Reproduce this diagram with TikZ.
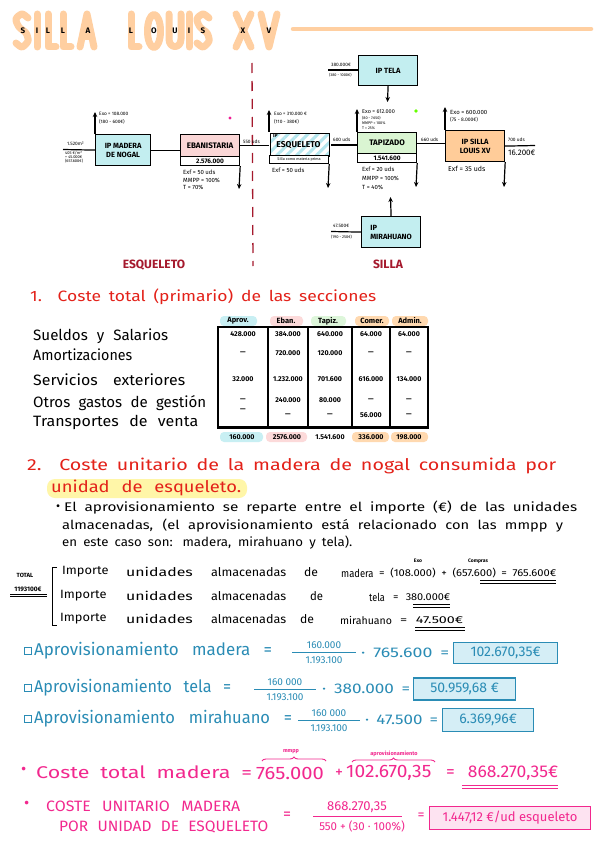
\documentclass[tikz,border=0pt]{standalone}
\usepackage{fontspec}
\usepackage{graphicx}
\setmainfont{Fira Sans}
\usetikzlibrary{arrows.meta,patterns.meta,decorations.pathreplacing}
\definecolor{peach}{HTML}{FFCFA1}
\definecolor{cyanf}{HTML}{C3EEF0}
\definecolor{pinkf}{HTML}{FAD6D6}
\definecolor{greenf}{HTML}{DAF5D2}
\definecolor{orangef}{HTML}{FFCC99}
\definecolor{hatchc}{HTML}{B5E6EE}
\definecolor{dred}{HTML}{A5192D}
\definecolor{redt}{HTML}{E32119}
\definecolor{tealt}{HTML}{2A8CB5}
\definecolor{tealf}{HTML}{D5EEF6}
\definecolor{pinkt}{HTML}{F2288E}
\definecolor{pinkbox}{HTML}{FDE3F1}
\definecolor{hly}{HTML}{FFF6A8}
\definecolor{hlc}{HTML}{C8EFF3}
\definecolor{hlp}{HTML}{FCDADA}
\definecolor{hlg}{HTML}{DDF6DA}
\definecolor{hlo}{HTML}{FFD9B0}
\newcommand{\fitw}[2]{\resizebox{#1}{\height}{\makebox[1.08\width][s]{#2}}}
\begin{document}
\begin{tikzpicture}[x=1pt,y=-1pt,
 fs/.style={font=\fontsize{#1}{#1}\selectfont},
 fsb/.style={font=\fontsize{#1}{#1}\selectfont\bfseries},
 box/.style={draw,line width=1.2pt,inner sep=0pt,anchor=north west,align=center,font=\fontsize{7.5}{9}\selectfont\bfseries},
 conn/.style={line width=1.2pt},
 arr/.style={line width=1.2pt,-{Stealth[length=5pt,width=4.5pt]}},
 lab/.style={inner sep=0pt,anchor=west,font=\fontsize{4.8}{5.5}\selectfont},
 labm/.style={inner sep=0pt,anchor=west,font=\fontsize{6}{7}\selectfont},
 tx/.style={inner sep=0pt,anchor=west},
 num/.style={inner sep=0pt,font=\fontsize{7}{8}\selectfont\bfseries},
 hl/.style={rounded corners=4pt},
 ttl/.style={peach,line width=7pt,line cap=round,line join=round},
 uline/.style={line width=0.9pt},
 resbox/.style={line width=1.2pt,minimum height=22pt,anchor=west,inner sep=0pt},
]
\useasboundingbox (0,0) rectangle (600,848);
\fill[white] (0,0) rectangle (600,848);

% ---------- title ----------
\draw[ttl] plot[smooth] coordinates {(28,18) (22,14) (16,19) (19,27) (26,33) (28,41) (22,47) (16,43)};
\draw[ttl] (37,14) -- (37,47);
\draw[ttl] (48,14) -- (48,47) -- (56,47);
\draw[ttl] (63,14) -- (63,47) -- (71,47);
\draw[ttl] (80,47) -- (87,14) -- (94,47);
\draw[ttl] (82.5,37) -- (91.5,37);
\draw[ttl] (131,14) -- (131,47) -- (139,47);
\draw[ttl] (154,31) ellipse [x radius=6.5pt, y radius=16.5pt];
\draw[ttl] (169,14) -- (169,39) .. controls (169,49) and (181,49) .. (181,39) -- (181,14);
\draw[ttl] (189,14) -- (189,47);
\draw[ttl] plot[smooth] coordinates {(209,18) (203,14) (197,19) (200,27) (207,33) (209,41) (203,47) (197,43)};
\draw[ttl] (236,14) -- (251,47);
\draw[ttl] (251,14) -- (236,47);
\draw[ttl] (261,14) -- (269,47) -- (277,14);
\foreach \x/\c in {23/S,37/I,48/L,63/L,88/A,131/L,154/O,175/U,189/I,203/S,243/X,269/V}
  \node[fsb=8,inner sep=0pt] (t\x) at (\x,31) {\c};
\draw[peach,line width=4.5pt,line cap=round] (293,29) -- (591,29);

% ---------- dashed divider ----------
\draw[dred,line width=1.3pt,dash pattern=on 10pt off 8pt] (252,63) -- (253,266);

% ---------- boxes ----------
\node[box,fill=cyanf,minimum width=55pt,minimum height=31pt] (mad) at (95,134) {IP MADERA\\DE NOGAL};
\node[box,fill=pinkf,minimum width=59pt,minimum height=22pt,fsb=8] (eban) at (180,134) {EBANISTARIA};
\node[box,fill=white,minimum width=59pt,minimum height=9pt,fsb=6.5] (ebanv) at (180,156) {2.576.000};
\node[box,pattern={Lines[angle=45,distance=7pt,line width=3pt]},pattern color=hatchc,minimum width=59pt,minimum height=23pt] (esq) at (269,132) {};
\node[fsb=8.5,inner sep=0pt] (esqt) at (298.5,145) {ESQUELETO};
\node[fsb=5,inner sep=0pt,anchor=west] (esqip) at (273,136) {IP};
\node[box,fill=white,minimum width=59pt,minimum height=8pt,fs=3.8] (esqv) at (269,155) {Silla como materia prima};
\node[box,fill=cyanf,minimum width=59pt,minimum height=30pt] (tela) at (358,55) {IP TELA};
\node[box,fill=greenf,minimum width=59pt,minimum height=21pt,fsb=8] (tap) at (357,132) {TAPIZADO};
\node[box,fill=white,minimum width=59pt,minimum height=9pt,fsb=6.5] (tapv) at (357,153) {1.541.600};
\node[box,fill=orangef,minimum width=59pt,minimum height=31pt] (silla) at (445,130) {IP SILLA\\LOUIS XV};
\node[box,fill=cyanf,minimum width=59pt,minimum height=31pt,align=left] (mira) at (361,216) {IP\\MIRAHUANO};

% ---------- connectors ----------
\coordinate (madin) at (63,149.5);
\draw[conn] (madin) -- (mad.west);
\draw[conn] (mad.east) -- (mad.east -| eban.west);
\draw[conn] (eban.east) -- (eban.east -| esq.west);
\draw[conn] (esq.east) -- (esq.east -| tap.west);
\draw[conn] (tap.east) -- (tap.east -| silla.west);
\coordinate (sout) at (535,145.5);
\draw[conn] (silla.east) -- (sout);
\coordinate (telain) at (328,70);
\draw[conn] (telain) -- (telain -| tela.west);
\coordinate (mirain) at (331,231.5);
\draw[conn] (mirain) -- (mira.west);

\coordinate (madup) at (95,112);   \draw[arr] (mad.north west) -- (madup);
\coordinate (ebandn) at (239,189); \draw[arr] (ebanv.south east) -- (ebandn);
\coordinate (esqup) at (269,110);  \draw[arr] (esq.north west) -- (esqup);
\coordinate (esqdn) at (328,188);  \draw[arr] (esqv.south east) -- (esqdn);
\coordinate (telad) at (387.5,102); \draw[arr] (tela.south) -- (telad);
\coordinate (tapup) at (357,109);  \draw[arr] (tap.north west) -- (tapup);
\coordinate (tapdn) at (416,187);  \draw[arr] (tapv.south east) -- (tapdn);
\coordinate (sillaup) at (445,107); \draw[arr] (silla.north west) -- (sillaup);
\coordinate (silladn) at (504,187); \draw[arr] (silla.south east) -- (silladn);
\coordinate (miraup) at (390.5,197); \draw[arr] (mira.north) -- (miraup);

% ---------- diagram labels ----------
\node[lab] (m1) at (67,144) {1.520m²};
\node[lab,fs=4,align=left,anchor=north west] (m2) at (65,151) {405 €/m²\\+ 45.000€\\(657.600€)};
\node[lab] (m3) at (99,114) {Exo = 108.000};
\node[lab] (m4) at (99,122) {(180 - 600€)};
\node[labm] (e1) at (183,172) {Exf = 50 uds};
\node[labm] (e2) at (183,180) {MMPP = 100\%};
\node[labm] (e3) at (183,187) {T = 70\%};
\node[lab] (e4) at (243,142) {550 uds};
\node[lab] (q1) at (274,114) {Exo = 310.000 €};
\node[lab] (q2) at (274,122) {(110 - 380€)};
\node[labm] (q3) at (272,170) {Exf = 50 uds};
\node[lab] (a1) at (331,65) {380.000€};
\node[lab,fs=3.8] (a2) at (329,75) {(380 - 1000€)};
\node[lab] (a3) at (333,140) {600 uds};
\node[lab,fs=5.5] (p1) at (362,112) {Exo = 612.000};
\node[lab,fs=3.8] (p2) at (362,118) {(80 - 7.650)};
\node[lab,fs=3.8] (p3) at (362,123) {MMPP = 100\%};
\node[lab,fs=3.8] (p4) at (362,128) {T = 25\%};
\node[labm] (p5) at (362,169) {Exf = 20 uds};
\node[labm] (p6) at (362,178) {MMPP = 100\%};
\node[labm] (p7) at (362,187) {T = 40\%};
\node[lab] (p8) at (421,140) {660 uds};
\node[lab,fs=6] (s1) at (450,112) {Exo = 600.000};
\node[lab,fs=5] (s2) at (450,120) {(75 - 8.000€)};
\node[lab,fs=7] (s3) at (448,169) {Exf = 35 uds};
\node[lab] (s4) at (508,140) {700 uds};
\node[lab,fs=8] (s5) at (508,153) {16.200€};
\node[lab] (r1) at (333,226) {47.500€};
\node[lab,fs=4] (r2) at (331,237) {(190 - 250€)};
\fill[magenta!85!pink] (230,118) circle[radius=1.6pt];
\fill[green!60!yellow] (416,111) circle[radius=1.8pt];
\node[dred,fsb=12,inner sep=0pt] (lesq) at (154,265) {ESQUELETO};
\node[dred,fsb=12,inner sep=0pt] (lsil) at (388,264) {SILLA};

% ---------- section 1 ----------
\node[tx,redt,fs=15] (h1) at (30,297) {\fitw{346pt}{1. Coste total (primario) de las secciones}};
\fill[hlc,hl] (220,316) rectangle (257,326);
\fill[hlp,hl] (270,316) rectangle (303,326);
\fill[hlg,hl] (311,316) rectangle (346,326);
\fill[hlo,hl] (355,316) rectangle (389,326);
\fill[hlo,hl] (392,316) rectangle (428,326);
\node[num,fsb=7.5] (c1) at (238,321) {Aprov.};
\node[num,fsb=7.5] (c2) at (286,321) {Eban.};
\node[num,fsb=7.5] (c3) at (328,321) {Tapiz.};
\node[num,fsb=7.5] (c4) at (372,321) {Comer.};
\node[num,fsb=7.5] (c5) at (410,321) {Admin.};
\draw[line width=1.3pt] (218,327) rectangle (428,428);
\draw[line width=2pt] (218,427) -- (428,427);
\foreach \x in {268,308,352,390} \draw[line width=1.1pt] (\x,327) -- (\x,428);
\foreach \y/\a/\b/\c/\d/\e in {334/428.000/384.000/640.000/64.000/64.000,
   353/—/720.000/120.000/—/—,
   379/32.000/1.232.000/701.600/616.000/134.000,
   400/—/240.000/80.000/—/—,
   415/ /—/—/56.000/—}
 {\node[num] at (243,\y) {\a};
  \node[num] at (288,\y) {\b};
  \node[num] at (330,\y) {\c};
  \node[num] at (371,\y) {\d};
  \node[num] at (409,\y) {\e};}
\node[num] (dash5) at (243,410) {—};
\fill[hlc,hl] (220,432) rectangle (263,442);
\fill[hlp,hl] (266,432) rectangle (307,442);
\fill[hlo,hl] (352,432) rectangle (389,442);
\fill[hlo,hl] (391,432) rectangle (428,442);
\node[num] (tt1) at (242,437) {160.000};
\node[num] (tt2) at (287,437) {2576.000};
\node[num] (tt3) at (330,437) {1.541.600};
\node[num] (tt4) at (371,437) {336.000};
\node[num] (tt5) at (409,437) {198.000};
\node[tx,fs=15] (w1) at (33,336) {\fitw{135pt}{Sueldos y Salarios}};
\node[tx,fs=15] (w2) at (33,355) {\fitw{107pt}{Amortizaciones}};
\node[tx,fs=15] (w3) at (33,380) {\fitw{152pt}{Servicios exteriores}};
\node[tx,fs=15] (w4) at (33,403) {\fitw{173pt}{Otros gastos de gestión}};
\node[tx,fs=15] (w5) at (33,422) {\fitw{165pt}{Transportes de venta}};

% ---------- section 2 ----------
\node[tx,redt,fs=16] (h2) at (27,466) {\fitw{529pt}{2. Coste unitario de la madera de nogal consumida por}};
\fill[hly,rounded corners=8pt] (47,479) rectangle (247,498);
\node[tx,redt,fs=16] (h2b) at (51,488) {\fitw{190pt}{unidad de esqueleto.}};
\node[tx,fs=12.5] (b0) at (56,508) {•};
\node[tx,fs=12.5] (b1) at (64,508) {\fitw{513pt}{El aprovisionamiento se reparte entre el importe (€) de las unidades}};
\node[tx,fs=12.5] (b2) at (62,526) {\fitw{501pt}{almacenadas, (el aprovisionamiento está relacionado con las mmpp y}};
\node[tx,fs=12.5] (b3) at (62,543) {\fitw{290pt}{en este caso son: madera, mirahuano y tela).}};

\node[fsb=6,inner sep=0pt] (tot) at (25,575) {TOTAL};
\node[fsb=6.5,inner sep=0pt] (totv) at (28,589) {1193100€};
\draw[uline] (10,594) -- (47,594);
\draw[uline] (10,596.5) -- (47,596.5);
\draw[line width=1pt] (57,567) -- (52,567) -- (52,625) -- (57,625);
\foreach \y/\dx in {572/62,596/60,619/60}
 {\node[tx,fs=12] at (\dx,\y) {\fitw{50pt}{Importe}};
  \node[tx,fs=12] at (126,\y) {\fitw{72pt}{unidades}};
  \node[tx,fs=12] at (211,\y) {\fitw{81pt}{almacenadas}};}
\node[tx,fs=12] (d1) at (304,572) {\fitw{15pt}{de}};
\node[tx,fs=12] (d2) at (310,596) {\fitw{14pt}{de}};
\node[tx,fs=12] (d3) at (300,619) {\fitw{15pt}{de}};
\node[tx,fs=11] (i1) at (341,573) {\fitw{35pt}{madera}};
\node[tx,fs=10] (i1b) at (379,573) {\fitw{177pt}{= (108.000) + (657.600) = 765.600€}};
\node[fsb=5,inner sep=0pt] (exo) at (418,561) {Exo};
\node[fsb=5,inner sep=0pt] (comp) at (478,561) {Compras};
\draw[uline] (480,580) -- (556,580);
\draw[uline] (480,583) -- (556,583);
\node[tx,fs=11] (i2) at (369,597) {\fitw{17pt}{tela}};
\node[tx,fs=10] (i2b) at (393,597) {\fitw{57pt}{= 380.000€}};
\draw[uline] (413,604) -- (450,604);
\draw[uline] (413,607) -- (450,607);
\node[tx,fs=10.5] (i3) at (340,620) {\fitw{56pt}{mirahuano}};
\node[tx,fs=10] (i3b) at (400,620) {\fitw{63pt}{= 47.500€}};
\draw[uline] (415,627) -- (465,627);
\draw[uline] (415,630) -- (465,630);

% ---------- aprovisionamiento ----------
\foreach \y in {650.5,687.5,718.5} \draw[tealt,line width=1pt] (24,\y-3.5) rectangle (31,\y+3.5);
\node[tx,text=tealt,fs=17] (ap1) at (34,651) {\fitw{238pt}{Aprovisionamiento madera =}};
\node[num,text=tealt,fs=10] (f1n) at (324,645) {160.000};
\draw[tealt,line width=0.9pt] (292,652) -- (356,652);
\node[num,text=tealt,fs=10] (f1d) at (324,660) {1.193.100};
\node[tx,text=tealt,fs=14] (ap1b) at (361,653) {\fitw{88pt}{· 765.600 =}};
\node[resbox,draw=tealt,fill=tealf,text=tealt,minimum width=104pt,minimum height=21pt,fs=14] (res1) at (453,653) {102.670,35€};

\node[tx,text=tealt,fs=17] (ap2) at (34,688) {\fitw{197pt}{Aprovisionamiento tela =}};
\node[num,text=tealt,fs=10] (f2n) at (285,682) {160 000};
\draw[tealt,line width=0.9pt] (254,689) -- (316,689);
\node[num,text=tealt,fs=10] (f2d) at (285,697) {1.193.100};
\node[tx,text=tealt,fs=14] (ap2b) at (322,689) {\fitw{88pt}{· 380.000 =}};
\node[resbox,draw=tealt,fill=tealf,text=tealt,minimum width=102pt,fs=14] (res2) at (413,689) {50.959,68 €};

\node[tx,text=tealt,fs=17] (ap3) at (34,719) {\fitw{258pt}{Aprovisionamiento mirahuano =}};
\node[num,text=tealt,fs=10] (f3n) at (329,713) {160 000};
\draw[tealt,line width=0.9pt] (298,720) -- (360,720);
\node[num,text=tealt,fs=10] (f3d) at (329,728) {1.193.100};
\node[tx,text=tealt,fs=14] (ap3b) at (365,720) {\fitw{73pt}{· 47.500 =}};
\node[resbox,draw=tealt,fill=tealf,text=tealt,minimum width=91pt,minimum height=23pt,fs=14] (res3) at (442,720) {6.369,96€};

% ---------- coste total madera ----------
\node[tx,text=pinkt,fs=16] (k0) at (21,771) {•};
\node[tx,text=pinkt,fs=17] (k1) at (36,772) {\fitw{216pt}{Coste total madera =}};
\node[tx,text=pinkt,fs=18] (k2) at (256,773) {\fitw{73pt}{765.000}};
\draw[pinkt,line width=0.9pt,decorate,decoration={brace,amplitude=4pt}] (262,761) -- (326,761);
\node[text=pinkt,fsb=5.5,inner sep=0pt] (k2l) at (291,752) {mmpp};
\node[tx,text=pinkt,fs=16] (k3) at (335,773) {+};
\node[tx,text=pinkt,fs=18] (k4) at (346,773) {\fitw{92pt}{102.670,35}};
\draw[pinkt,line width=0.9pt,decorate,decoration={brace,amplitude=4pt}] (352,762) -- (435,762);
\node[text=pinkt,fsb=5.5,inner sep=0pt] (k4l) at (394,754) {aprovisionamiento};
\node[tx,text=pinkt,fs=17] (k5) at (446,773) {\fitw{112pt}{= 868.270,35€}};
\draw[pinkt,uline] (462,785) -- (558,785);
\draw[pinkt,uline] (462,788) -- (558,788);

\node[tx,text=pinkt,fs=16] (u0) at (24,805) {•};
\node[tx,text=pinkt,fs=15] (u1) at (46,806) {\fitw{194pt}{COSTE UNITARIO MADERA}};
\node[tx,text=pinkt,fs=15] (u2) at (59,827) {\fitw{209pt}{POR UNIDAD DE ESQUELETO}};
\node[text=pinkt,fs=16,inner sep=0pt] (u3) at (287,816) {=};
\node[text=pinkt,fs=13,inner sep=0pt] (u4) at (357,807) {868.270,35};
\draw[pinkt,line width=0.9pt] (313,816) -- (402,816);
\node[text=pinkt,fs=11.5,inner sep=0pt] (u5) at (362,826) {550 + (30 · 100\%)};
\node[text=pinkt,fs=14,inner sep=0pt] (u6) at (421,816) {=};
\node[resbox,draw=pinkt,fill=pinkbox,text=pinkt,minimum width=161pt,minimum height=23pt,fs=13] (res4) at (429,818) {1.447,12 €/ud esqueleto};
\end{tikzpicture}
\end{document}
